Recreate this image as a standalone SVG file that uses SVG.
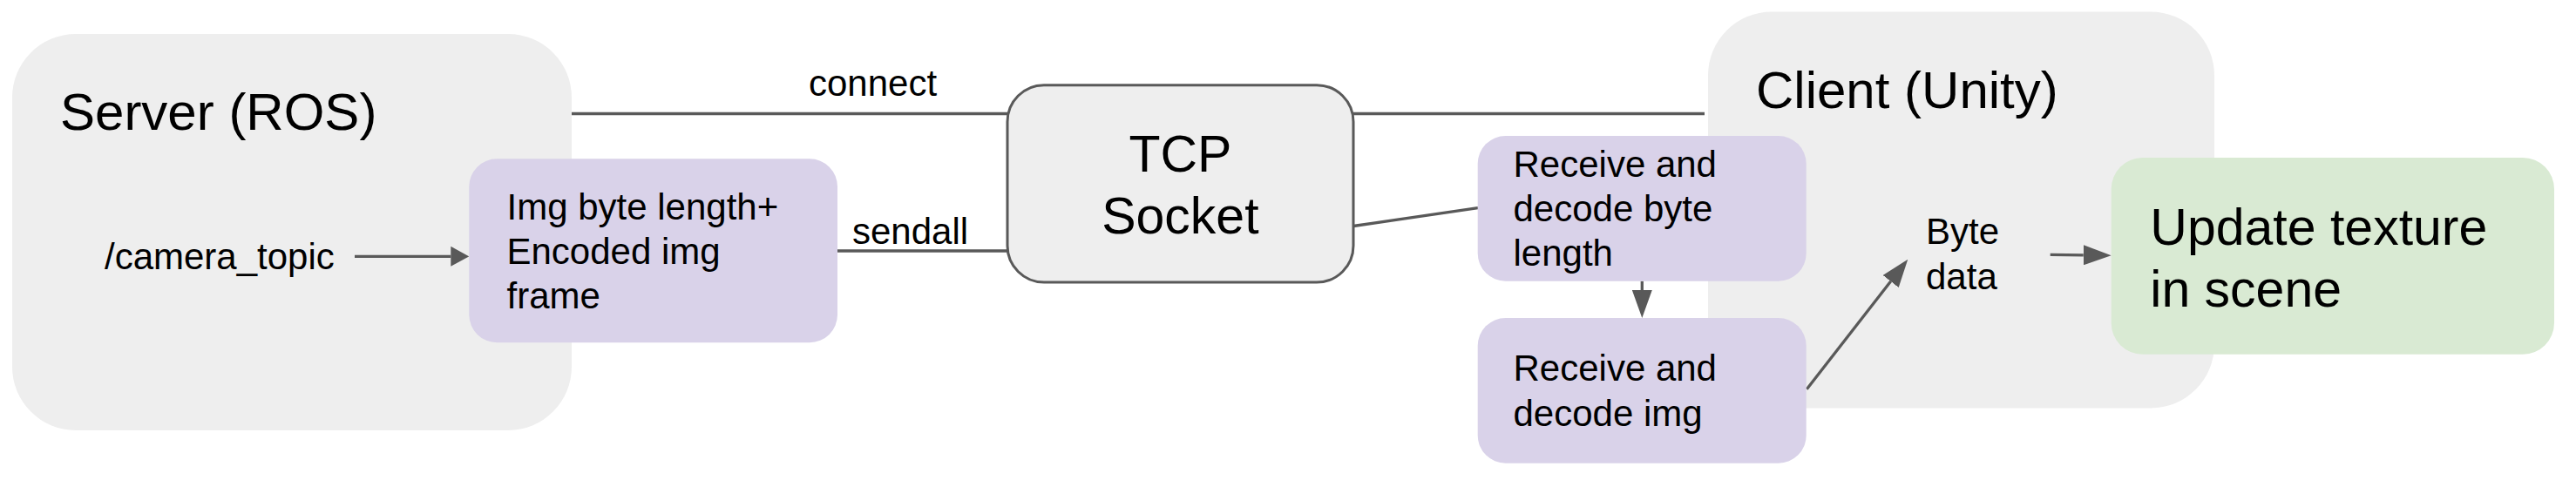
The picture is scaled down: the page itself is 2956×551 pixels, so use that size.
<svg xmlns="http://www.w3.org/2000/svg" width="2956" height="551" viewBox="0 0 2956 551">
<style>
.grp{fill:#eeeeee;}
.proc{fill:#d9d2e9;}
.done{fill:#d9ead3;}
.tcp{fill:#eeeeee;stroke:#595959;stroke-width:3;}
.ln{stroke:#595959;stroke-width:3.3;fill:none;}
text{font-family:"Liberation Sans",Arial,sans-serif;fill:#000000;}
.big{font-size:60px;}
.mid{font-size:59px;}
.sm{font-size:42px;}
</style>
<defs>
<marker id="ah" viewBox="0 0 32 23" refX="0" refY="11.5" markerWidth="32" markerHeight="23" markerUnits="userSpaceOnUse" orient="auto">
<path d="M0,0 L32,11.5 L0,23 Z" fill="#595959"/>
</marker>
<marker id="ahs" viewBox="0 0 21 23" refX="0" refY="11.5" markerWidth="21" markerHeight="23" markerUnits="userSpaceOnUse" orient="auto">
<path d="M0,0 L21,11.5 L0,23 Z" fill="#595959"/>
</marker>
</defs>
<rect width="2956" height="551" fill="#ffffff"/>

<g id="server">
<rect class="grp" x="14" y="39" width="642" height="455" rx="73" ry="73"/>
<text class="big" x="69" y="149">Server (ROS)</text>
</g>
<g id="client">
<rect class="grp" x="1960" y="13.5" width="581" height="455" rx="73" ry="73"/>
<text class="big" x="2015" y="124">Client (Unity)</text>
</g>

<g id="connectors">
<line class="ln" x1="656" y1="130.5" x2="1156" y2="130.5"/>
<line class="ln" x1="1553" y1="130.5" x2="1956" y2="130.5"/>
<text class="sm" x="928" y="109.5">connect</text>
<line class="ln" x1="961" y1="288" x2="1156" y2="288"/>
<text class="sm" x="978" y="279.5">sendall</text>
<line class="ln" x1="1553" y1="259.5" x2="1696" y2="238.7"/>
<line class="ln" x1="407" y1="294.3" x2="517.3" y2="294.3" marker-end="url(#ahs)"/>
<line class="ln" x1="1884.3" y1="322.7" x2="1884.3" y2="333" marker-end="url(#ah)"/>
<line class="ln" x1="2073.3" y1="446.7" x2="2169.6" y2="323" marker-end="url(#ah)"/>
<line class="ln" x1="2352.7" y1="292.3" x2="2390.7" y2="292.8" marker-end="url(#ah)"/>
</g>

<g id="camera_topic">
<text class="sm" x="120" y="309">/camera_topic</text>
</g>
<g id="img_frame">
<rect class="proc" x="538.3" y="182.3" width="422.7" height="211" rx="32" ry="32"/>
<text class="sm" x="581.5" y="251.7">Img byte length+</text>
<text class="sm" x="581.5" y="303">Encoded img</text>
<text class="sm" x="581.5" y="354">frame</text>
</g>
<g id="tcp_socket">
<rect class="tcp" x="1156" y="97.7" width="397" height="226.3" rx="42" ry="42"/>
<text class="mid" x="1354.4" y="196.7" text-anchor="middle">TCP</text>
<text class="mid" x="1354.4" y="268.3" text-anchor="middle">Socket</text>
</g>
<g id="recv_length">
<rect class="proc" x="1695.7" y="156" width="377" height="166.7" rx="32" ry="32"/>
<text class="sm" x="1736.5" y="202.7">Receive and</text>
<text class="sm" x="1736.5" y="253.5">decode byte</text>
<text class="sm" x="1736.5" y="304.5">length</text>
</g>
<g id="recv_img">
<rect class="proc" x="1695.7" y="365" width="377" height="166.7" rx="32" ry="32"/>
<text class="sm" x="1736.5" y="437.3">Receive and</text>
<text class="sm" x="1736.5" y="489">decode img</text>
</g>
<g id="byte_data">
<text class="sm" x="2210" y="280">Byte</text>
<text class="sm" x="2210" y="332">data</text>
</g>
<g id="update_texture">
<rect class="done" x="2422.7" y="181" width="508.3" height="225.7" rx="36" ry="36"/>
<text class="mid" x="2467.3" y="280.7">Update texture</text>
<text class="mid" x="2467.3" y="351.7">in scene</text>
</g>
</svg>
